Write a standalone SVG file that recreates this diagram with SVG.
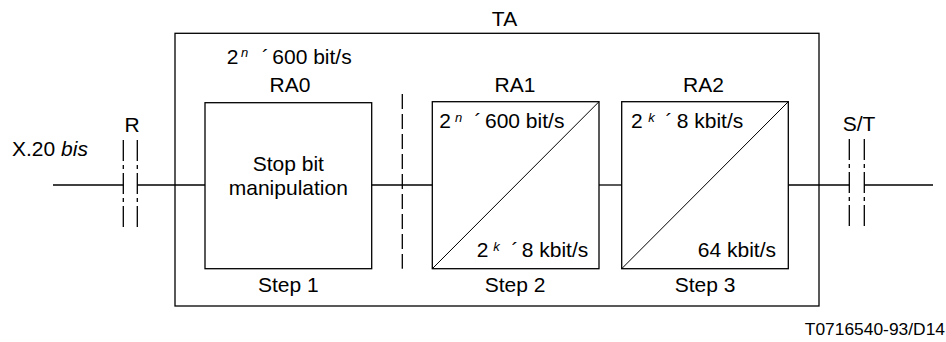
<svg xmlns="http://www.w3.org/2000/svg" width="946" height="342" viewBox="0 0 946 342">
<style>
  .t{font-family:"Liberation Sans",Arial,sans-serif;font-size:21px;fill:#000}
  .m{text-anchor:middle}
  .sup{font-size:13px;font-style:italic}
  .box{fill:none;stroke:#000;stroke-width:1.3}
  .diag{stroke:#000;stroke-width:1}
  .ln{stroke:#000;stroke-width:1.3;fill:none}
  .dash{stroke:#000;stroke-width:1.3;stroke-dasharray:15 5}
  .dd{stroke:#000;stroke-width:1.3;stroke-dasharray:21 4 4 4}
</style>
<rect width="946" height="342" fill="#fff"/>
<g id="TA">
  <rect class="box" x="175" y="33.3" width="644" height="272.7"/>
  <text class="t m" x="504.5" y="26">TA</text>
</g>
<g id="RA0">
  <rect class="box" x="205" y="102.7" width="166.7" height="166"/>
  <text class="t" x="226.7" y="64">2</text>
  <text class="t sup" x="241" y="57">n</text>
  <text class="t" x="262" y="64">´</text>
  <text class="t" x="272.3" y="64">600 bit/s</text>
  <text class="t m" x="290" y="92.3">RA0</text>
  <text class="t m" x="288.3" y="171">Stop bit</text>
  <text class="t m" x="288.3" y="194.5">manipulation</text>
  <text class="t m" x="288.3" y="291.7">Step 1</text>
</g>
<g id="RA1">
  <rect class="box" x="432.3" y="101.7" width="166.7" height="167"/>
  <line class="diag" x1="432.3" y1="268.7" x2="599" y2="101.7"/>
  <text class="t m" x="515" y="92.3">RA1</text>
  <text class="t" x="439.3" y="128.3">2</text>
  <text class="t sup" x="455" y="121.5">n</text>
  <text class="t" x="474.5" y="128.3">´</text>
  <text class="t" x="485" y="128.3">600 bit/s</text>
  <text class="t" x="476.7" y="257.3">2</text>
  <text class="t sup" x="493.3" y="250.5">k</text>
  <text class="t" x="511.5" y="257.3">´</text>
  <text class="t" x="521.7" y="257.3">8 kbit/s</text>
  <text class="t m" x="515" y="291.7">Step 2</text>
</g>
<g id="RA2">
  <rect class="box" x="621.7" y="101.7" width="166.6" height="167"/>
  <line class="diag" x1="621.7" y1="268.7" x2="788.3" y2="101.7"/>
  <text class="t m" x="703.5" y="92.3">RA2</text>
  <text class="t" x="631" y="128.3">2</text>
  <text class="t sup" x="648.3" y="121.5">k</text>
  <text class="t" x="665.5" y="128.3">´</text>
  <text class="t" x="676.7" y="128.3">8 kbit/s</text>
  <text class="t" x="776" y="257.3" text-anchor="end">64 kbit/s</text>
  <text class="t m" x="705" y="291.7">Step 3</text>
</g>
<g id="R">
  <line class="dd" x1="123.3" y1="140" x2="123.3" y2="230"/>
  <line class="dd" x1="137.3" y1="140" x2="137.3" y2="230"/>
  <text class="t m" x="132" y="131.7">R</text>
  <text class="t" x="12" y="155.5">X.20 <tspan font-style="italic">bis</tspan></text>
</g>
<g id="ST">
  <line class="dd" x1="849.3" y1="139" x2="849.3" y2="229.3"/>
  <line class="dd" x1="864.3" y1="139" x2="864.3" y2="229.3"/>
  <text class="t m" x="859" y="130.7">S/T</text>
</g>
<g id="connectors">
  <line class="ln" x1="53" y1="185" x2="123.3" y2="185"/>
  <line class="ln" x1="137.3" y1="185" x2="205" y2="185"/>
  <line class="ln" x1="371.7" y1="185" x2="432.3" y2="185"/>
  <line class="ln" x1="599" y1="185" x2="621.7" y2="185"/>
  <line class="ln" x1="788.3" y1="185" x2="849.3" y2="185"/>
  <line class="ln" x1="864.3" y1="185" x2="933" y2="185"/>
  <line class="dash" x1="402.3" y1="94" x2="402.3" y2="268.7"/>
</g>
<text class="t" x="945" y="335" text-anchor="end" style="font-size:17.4px">T0716540-93/D14</text>
</svg>
